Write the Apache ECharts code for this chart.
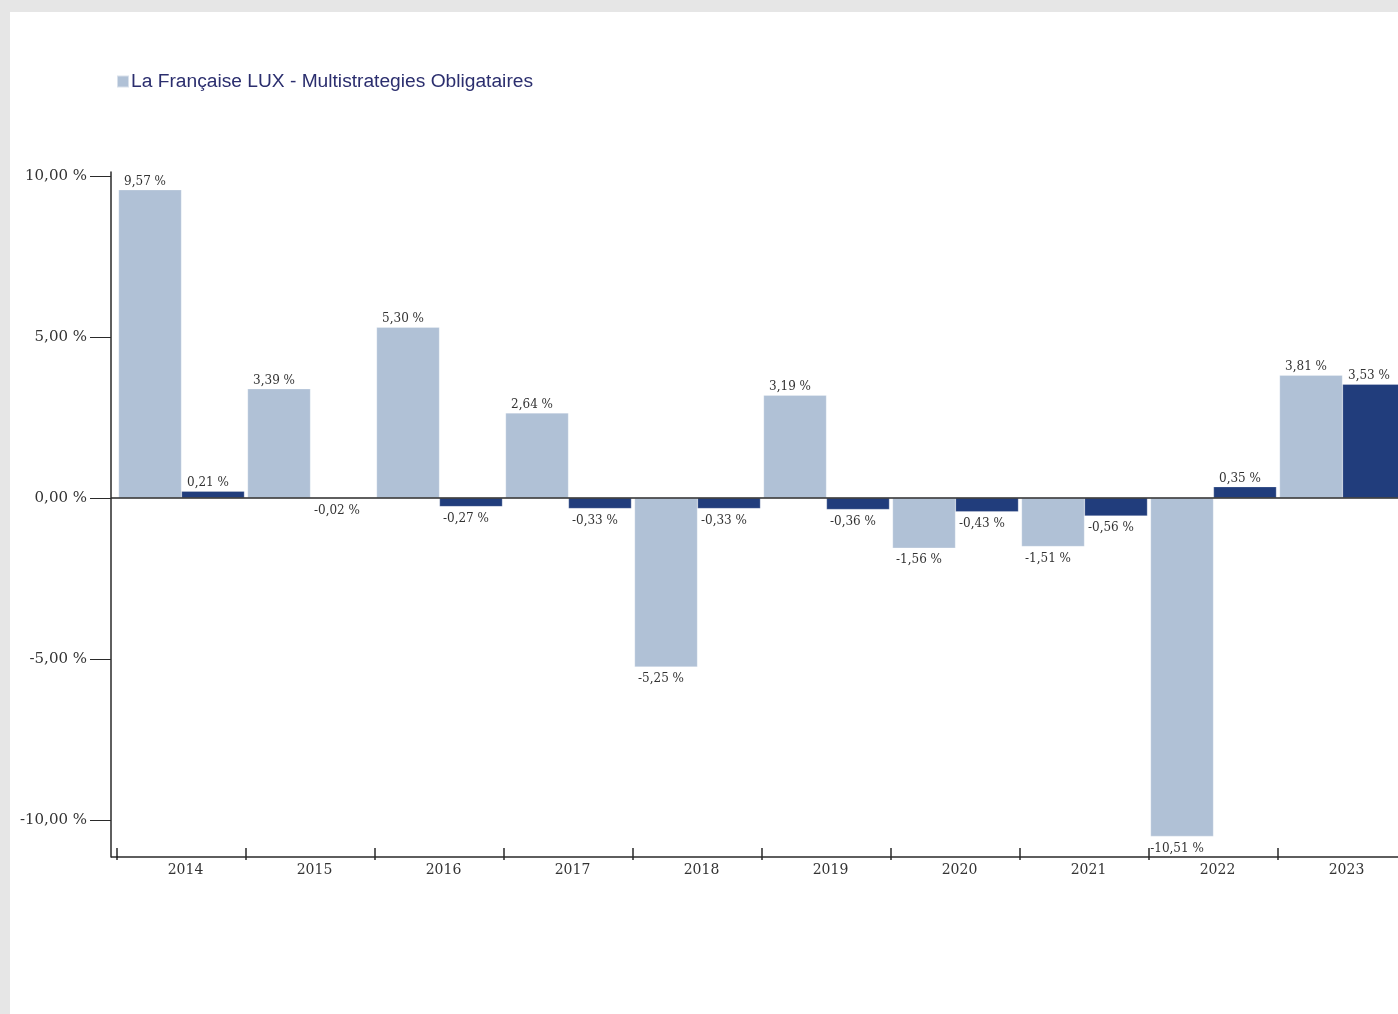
<!DOCTYPE html>
<html>
<head>
<meta charset="utf-8">
<script src="https://cdn.jsdelivr.net/npm/echarts@6/dist/echarts.min.js"></script>
<style>
  html, body { margin: 0; padding: 0; background: #e6e6e6; width: 1398px; height: 1014px; overflow: hidden; position: relative; }
  /* the plot runs past the right edge of the page; the body clips it */
  #chart { position: absolute; left: 10px; top: 12px; width: 1408px; height: 1002px; background: #ffffff; }
</style>
</head>
<body>
<div id="chart"></div>
<script>
// Calendar-year performance, in percent
const years = ['2014', '2015', '2016', '2017', '2018', '2019', '2020', '2021', '2022', '2023'];
const fundName = 'La Française LUX - Multistrategies Obligataires';
const benchName = 'Indicateur de référence';
const fundValues = [9.57, 3.39, 5.30, 2.64, -5.25, 3.19, -1.56, -1.51, -10.51, 3.81];
const benchValues = [0.21, -0.02, -0.27, -0.33, -0.33, -0.36, -0.43, -0.56, 0.35, 3.53];
const yTicks = [-10, -5, 0, 5, 10];

const LIGHT = '#b0c1d6';
const DARK = '#213d7c';
const TEXT = '#333333';
const AXIS = '#2a2a2a';
const SERIF = '"DejaVu Serif", serif';

const fmtPct = v => v.toFixed(2).replace('.', ',') + ' %';

const withLabels = vals => vals.map(v => ({
  value: v,
  label: { position: v < 0 ? 'bottom' : 'top' }
}));

const chart = echarts.init(document.getElementById('chart'), null, { renderer: 'canvas' });

const Y_MIN = -11.15, Y_MAX = 10.12;
const GRID_LEFT = 107;

const barLabel = {
  show: true, color: TEXT, fontFamily: SERIF, fontSize: 12, distance: 4,
  offset: [-5, 2],
  formatter: p => fmtPct(p.value)
};

const option = {
  animation: false,
  backgroundColor: '#ffffff',
  legend: {
    data: [fundName],
    left: GRID_LEFT - 6,
    top: 55,
    itemWidth: 12,
    itemHeight: 12,
    icon: 'rect',
    textStyle: {
      fontFamily: '"Liberation Sans", Arial, sans-serif',
      fontSize: 19.2,
      color: '#2b2e6e',
      padding: [0, 0, 0, -3]
    }
  },
  grid: { left: GRID_LEFT, right: 11, top: 160, bottom: 157, containLabel: false },
  xAxis: [
    {
      type: 'category',
      data: years,
      position: 'bottom',
      axisLine: { show: true, onZero: false, lineStyle: { color: AXIS, width: 1.5 } },
      axisTick: { show: true, inside: true, length: 9, lineStyle: { color: AXIS, width: 1.5 } },
      axisLabel: {
        color: TEXT, fontFamily: SERIF, fontSize: 14, margin: 6,
        padding: [0, 0, 0, 8]
      },
      splitLine: { show: false }
    },
    {
      type: 'category',
      data: years,
      position: 'bottom',
      axisLine: { show: false, onZero: false },
      axisTick: { show: true, inside: false, length: 3, lineStyle: { color: AXIS, width: 1.5 } },
      axisLabel: { show: false },
      splitLine: { show: false }
    }
  ],
  yAxis: {
    type: 'value',
    min: Y_MIN,
    max: Y_MAX,
    offset: 6,
    axisLine: { show: true, lineStyle: { color: AXIS, width: 1.5 } },
    axisTick: { show: true, length: 21, customValues: yTicks, lineStyle: { color: AXIS, width: 1 } },
    axisLabel: {
      customValues: yTicks,
      color: TEXT, fontFamily: SERIF, fontSize: 15, margin: 24,
      formatter: v => fmtPct(v)
    },
    splitLine: { show: false }
  },
  series: [
    {
      name: fundName,
      type: 'bar',
      data: withLabels(fundValues),
      barGap: '0%',
      barCategoryGap: '2.4%',
      itemStyle: { color: LIGHT, borderColor: 'rgba(255,255,255,0.5)', borderWidth: 0.5 },
      label: barLabel
    },
    {
      name: benchName,
      type: 'bar',
      data: withLabels(benchValues),
      barGap: '0%',
      barCategoryGap: '2.4%',
      itemStyle: { color: DARK, borderColor: 'rgba(255,255,255,0.5)', borderWidth: 0.5 },
      label: barLabel
    }
  ]
};

chart.setOption(option);

// Zero line and the short stretch of the bottom axis line that runs left to the offset y axis
const axisX = GRID_LEFT - 6;
const y0 = chart.convertToPixel({ yAxisIndex: 0 }, 0);
const yBottom = chart.convertToPixel({ yAxisIndex: 0 }, Y_MIN);
chart.setOption({
  graphic: [
    { type: 'line', z: 10, shape: { x1: axisX, y1: y0, x2: chart.getWidth(), y2: y0 }, style: { stroke: AXIS, lineWidth: 1.5 } },
    { type: 'line', z: 10, shape: { x1: axisX, y1: yBottom, x2: GRID_LEFT + 1, y2: yBottom }, style: { stroke: AXIS, lineWidth: 1.5 } }
  ]
});
</script>
</body>
</html>
